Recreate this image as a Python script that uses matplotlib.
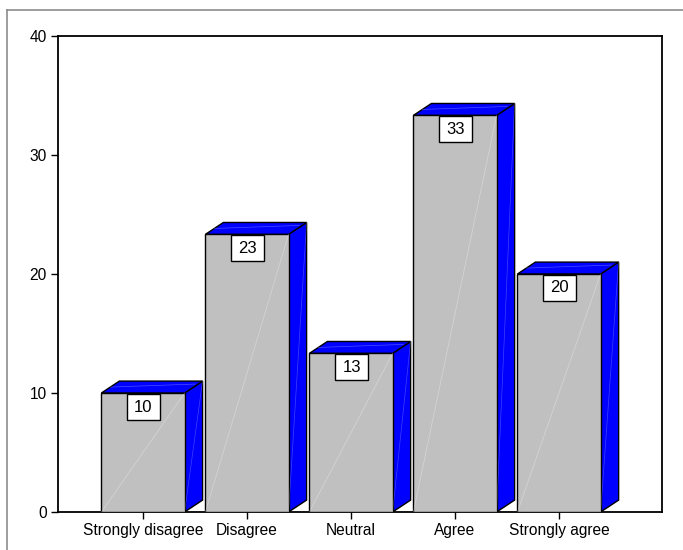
import matplotlib
matplotlib.use("Agg")
import matplotlib.pyplot as plt
from matplotlib.patches import Polygon, Rectangle
from matplotlib.lines import Line2D
from matplotlib.transforms import IdentityTransform, ScaledTranslation

plt.rcParams['font.family'] = ['Liberation Sans', 'DejaVu Sans']

categories = ["Strongly disagree", "Disagree", "Neutral", "Agree", "Strongly agree"]
percents = [10.0, 23.33, 13.33, 33.33, 20.0]
y_ticks = [0, 10, 20, 30, 40]

W, H = 683, 550
DPI = 100
fig = plt.figure(figsize=(W / DPI, H / DPI), dpi=DPI)

# outer frame of the chart area
fig.add_artist(Line2D([7 / W, 1.0], [1 - 10 / H, 1 - 10 / H], color='#8c8c8c', lw=1.2, transform=fig.transFigure))
fig.add_artist(Line2D([7 / W, 7 / W], [0.0, 1 - 10 / H], color='#8c8c8c', lw=1.2, transform=fig.transFigure))

left, right, top, bottom = 58, 662, 36, 512
ax = fig.add_axes([left / W, 1 - bottom / H, (right - left) / W, (bottom - top) / H])

ax.set_xlim(-0.817, 4.99)
ax.set_ylim(0, 40)

half = 0.4      # half width of the front face
dx = 0.173      # depth offset, x
dy = 1.0        # depth offset, y
front_c = '#c0c0c0'
blue = '#0000ff'

for i, v in enumerate(percents):
    x0, x1 = i - half, i + half
    # side face
    ax.add_patch(Polygon([(x1, 0), (x1 + dx, dy), (x1 + dx, v + dy), (x1, v)],
                         closed=True, fc=blue, ec='black', lw=1.0, zorder=2))
    # top face
    ax.add_patch(Polygon([(x0, v), (x1, v), (x1 + dx, v + dy), (x0 + dx, v + dy)],
                         closed=True, fc=blue, ec='black', lw=1.0, zorder=2))
    # front face
    ax.add_patch(Rectangle((x0, 0), 2 * half, v, fc=front_c, ec='black', lw=1.0, zorder=3))
    # faint sheen lines
    ax.plot([x0, x1], [0, v], color='white', lw=0.6, alpha=0.3, zorder=3.5)
    ax.plot([x1, x1 + dx], [0, v + dy], color='white', lw=0.5, alpha=0.25, zorder=3.5)
    ax.plot([x0 + dx * 0.5, x1 + dx * 0.6], [v + dy * 0.5, v + dy * 0.75], color='white', lw=0.5, alpha=0.3, zorder=3.5)
    # value label: fixed-size box (in pixels) just under the top edge
    anchor = IdentityTransform() + ScaledTranslation(i, v, ax.transData)
    ax.add_patch(Rectangle((-16, -27), 33, 26, fc='white', ec='black', lw=1.0,
                           transform=anchor, zorder=5, clip_on=False))
    ax.annotate(f"{v:.0f}", xy=(i, v), xytext=(0.5 * 72 / DPI, -14 * 72 / DPI), textcoords='offset points',
                ha='center', va='center', fontsize=12, zorder=6)

ax.set_xticks(range(len(categories)))
ax.set_xticklabels(categories, fontsize=11.2)
ax.set_yticks(y_ticks)
ax.set_yticklabels([str(t) for t in y_ticks], fontsize=11.2)
ax.tick_params(axis='both', direction='out', length=5, width=1.0, colors='black', pad=3)
for s in ax.spines.values():
    s.set_linewidth(1.3)
    s.set_color('black')

fig.savefig("out.png", dpi=DPI)
